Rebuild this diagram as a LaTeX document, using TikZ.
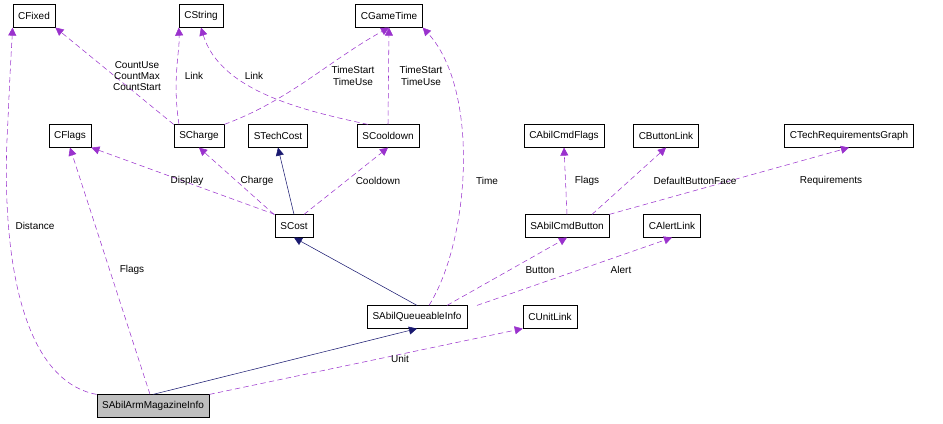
\documentclass[tikz,border=0pt]{standalone}
\usepackage{fontspec}
\setmainfont{Liberation Sans}
\usetikzlibrary{arrows.meta}
\definecolor{usecol}{HTML}{9A32CD}
\definecolor{inhcol}{HTML}{191970}
\tikzset{
	cls/.style={draw, fill=white, font=\fontsize{7.5pt}{9pt}\selectfont, inner xsep=4pt, minimum height=17pt},
	lbl/.style={font=\fontsize{7.5pt}{8.5pt}\selectfont, align=center, inner sep=1pt},
	uses/.style={usecol, dashed, dash pattern=on 4pt off 2.5pt, -{Triangle[length=6pt,width=6pt]}},
	inherits/.style={inhcol, -{Triangle[length=6pt,width=6pt]}}
}
\begin{document}
\begin{tikzpicture}[x=0.75pt, y=-0.75pt]
    \useasboundingbox (0,0) rectangle (943,424);
    % classes
    \node[cls] (CFixed) at (34,16) {CFixed};
    \node[cls] (CString) at (201,16) {CString};
    \node[cls] (CGameTime) at (389,16) {CGameTime};
    \node[cls] (CFlags) at (70,136) {CFlags};
    \node[cls] (SCharge) at (199,136) {SCharge};
    \node[cls] (STechCost) at (278,136) {STechCost};
    \node[cls] (SCooldown) at (388,136) {SCooldown};
    \node[cls] (CAbilCmdFlags) at (564,136) {CAbilCmdFlags};
    \node[cls] (CButtonLink) at (666,136) {CButtonLink};
    \node[cls] (CTechReq) at (849,136) {CTechRequirementsGraph};
    \node[cls] (SCost) at (294,226) {SCost};
    \node[cls] (SAbilCmdButton) at (567,226) {SAbilCmdButton};
    \node[cls] (CAlertLink) at (672,226) {CAlertLink};
    \node[cls] (SAbilQueueableInfo) at (417,317) {SAbilQueueableInfo};
    \node[cls] (CUnitLink) at (550,317) {CUnitLink};
    \node[cls, fill=black!25] (SAbilArm) at (153,406) {SAbilArmMagazineInfo};

    % inheritance
    \draw[inherits] (SAbilArm.north) -- (SAbilQueueableInfo.south);
    \draw[inherits] (SAbilQueueableInfo.north) -- (SCost.south);
    \draw[inherits] (SCost.north) -- (STechCost.south);

    % usage
    \draw[uses] (SAbilArm.north west) .. controls (20,380) and (0,250) .. (8,120) .. controls (10,70) and (12,40) .. (CFixed.south west);
    \draw[uses] (SAbilArm.north) ++(-3,0) -- (CFlags.south);
    \draw[uses] (SAbilArm.north east) -- (CUnitLink.south west);
    \draw[uses] (SAbilQueueableInfo.north) ++(12,0) .. controls (470,240) and (480,90) .. (CGameTime.south east);
    \draw[uses] (SAbilQueueableInfo.north) ++(30,0) -- (SAbilCmdButton.south);
    \draw[uses] (SAbilQueueableInfo.north) ++(60,0) -- (CAlertLink.south);
    \draw[uses] (SCost.north west) -- (CFlags.south east);
    \draw[uses] (SCost.north) ++(-20,0) -- (SCharge.south);
    \draw[uses] (SCost.north) ++(10,0) -- (SCooldown.south);
    \draw[uses] (SCharge.north west) -- (CFixed.south east);
    \draw[uses] (SCharge.north) ++(-20,0) .. controls (172,80) and (180,50) .. (CString.south west);
    \draw[uses] (SCharge.north east) .. controls (290,100) and (330,60) .. (CGameTime.south);
    \draw[uses] (SCooldown.north) ++(-20,0) .. controls (300,110) and (220,90) .. (CString.south);
    \draw[uses] (SCooldown.north) -- (CGameTime.south);
    \draw[uses] (SAbilCmdButton.north) -- (CAbilCmdFlags.south);
    \draw[uses] (SAbilCmdButton.north) ++(25,0) -- (CButtonLink.south);
    \draw[uses] (SAbilCmdButton.north east) -- (CTechReq.south);

    % labels
    \node[lbl] (lDistance) at (35,226) {Distance};
    \node[lbl] (lFlags) at (132,270) {Flags};
    \node[lbl] (lUnit) at (400,359) {Unit};
    \node[lbl] (lTime) at (487,181) {Time};
    \node[lbl] (lButton) at (540,270) {Button};
    \node[lbl] (lAlert) at (621,270) {Alert};
    \node[lbl] (lDisplay) at (187,181) {Display};
    \node[lbl] (lCharge) at (257,181) {Charge};
    \node[lbl] (lCooldown) at (378,181) {Cooldown};
    \node[lbl] (lCount) at (137,76) {CountUse\\CountMax\\CountStart};
    \node[lbl] (lLink1) at (194,76) {Link};
    \node[lbl] (lLink2) at (254,76) {Link};
    \node[lbl] (lTS1) at (353,76) {TimeStart\\TimeUse};
    \node[lbl] (lTS2) at (421,76) {TimeStart\\TimeUse};
    \node[lbl] (lFlags2) at (587,181) {Flags};
    \node[lbl] (lDBF) at (695,181) {DefaultButtonFace};
    \node[lbl] (lReq) at (831,181) {Requirements};
\end{tikzpicture}
\end{document}
